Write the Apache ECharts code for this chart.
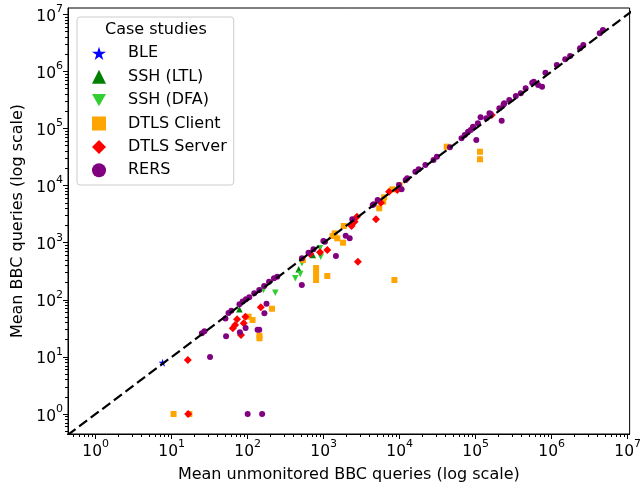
<!DOCTYPE html>
<html>
<head>
<meta charset="utf-8">
<script src="https://cdn.jsdelivr.net/npm/echarts@6/dist/echarts.min.js"></script>
<style>
  html, body { margin: 0; padding: 0; background: #fff; }
  #chart { width: 644px; height: 489px; }
</style>
</head>
<body>
<div id="chart"></div>
<script>
// Mean BBC queries with vs. without monitoring, per case study: [unmonitored, monitored]
const bleData = [[7.6, 7.9]];

const sshLtlData = [[78, 68], [469, 342], [720, 609]];

const sshDfaData = [[161, 149], [231, 133], [424, 238], [492, 283], [518, 436], [914, 569], [895, 798]];

const dtlsClientData = [
  [10.6, 1], [17.1, 1], [103, 50.6], [116, 44.3], [143, 21.2], [143, 23.5], [209, 69.8],
  [533, 498], [795, 360], [795, 283], [795, 222], [1117, 261], [8530, 222],
  [1800, 1000], [1510, 1190], [1310, 1310], [1400, 1460], [1840, 1960],
  [5390, 4000], [6070, 5230], [6250, 6240], [8040, 8610], [10000, 10250],
  [41600, 48000], [114000, 39200], [114000, 28900]
];

const dtlsServerData = [
  [16.5, 1], [16.3, 8.8], [72.6, 45.6], [68.4, 36.2], [63.8, 31.7], [93.4, 50.6], [88.7, 38.7],
  [81.8, 24.2], [149, 73.9], [664, 634], [895, 679], [1117, 745], [2820, 465],
  [2330, 1960], [2550, 2330], [2740, 2850], [4880, 2570], [5660, 5010], [7260, 7820],
  [9300, 8400], [163000, 172000]
];

const rersData = [
  [100, 1], [155, 1], [32, 10], [25, 26], [27, 28], [52, 23], [51, 47], [79, 27], [94, 32],
  [135, 30], [56, 59], [61, 64], [78, 84], [86, 93], [95, 102], [105, 111], [122, 130],
  [142, 149], [165, 175], [191, 207], [222, 238], [245, 254], [166, 58], [177, 85], [142, 30],
  [516, 182], [518, 533], [632, 668], [734, 766], [991, 1070], [1040, 1040], [1450, 585],
  [1950, 1320], [2200, 1200], [2380, 2570], [4420, 4570], [4550, 4700], [5130, 5600],
  [10600, 8610], [12000, 12500], [9790, 10250], [12600, 13400], [16100, 17500],
  [17800, 19300], [21800, 22900], [27900, 28100], [30900, 32100], [45900, 46900],
  [65200, 67300], [71900, 76900], [79500, 87900], [86100, 94200], [92300, 107600],
  [107000, 123000], [116000, 157000], [102000, 63000], [138000, 151000], [152000, 185000],
  [157000, 179000], [205000, 226000], [220000, 137000], [233000, 263000], [238000, 276000],
  [277000, 316000], [338000, 371000], [393000, 413000], [455000, 506000], [555000, 634000],
  [583000, 661000], [664000, 578000], [748000, 540000], [828000, 949000],
  [1170000, 1290000], [1510000, 1630000], [1750000, 1860000], [2360000, 2540000],
  [2610000, 2900000], [4290000, 4650000], [4730000, 5310000]
];

// Reference line y = x
const diagonal = [[0.3, 0.3], [1.2e7, 1.2e7]];

// Axis ticks (powers of ten) and axis extents
const majorTicks = [1, 10, 100, 1e3, 1e4, 1e5, 1e6, 1e7];
const minorMantissas = [2, 3, 4, 5, 6, 7, 8, 9];
const minorTicks = [];
[0.1, 1, 10, 100, 1e3, 1e4, 1e5, 1e6].forEach(function (d) {
  minorMantissas.forEach(function (m) { minorTicks.push(m * d); });
});
const xExtent = [0.4325, 1.062e7];
const yExtent = [0.4467, 1.288e7];

const FONT = 'DejaVu Sans';
const starPath = 'path://M50,0L61.23,34.55L97.55,34.55L68.17,55.9L79.39,90.45L50,69.1L20.61,90.45L31.83,55.9L2.45,34.55L38.77,34.55Z';
const downTriPath = 'path://M0,0L100,0L50,86.6Z';

function powLabel(v) {
  const e = Math.round(Math.log10(v));
  return '{b|10}{s|' + e + '}';
}
const labelRich = {
  b: { fontSize: 15.5, fontFamily: FONT, color: '#000', lineHeight: 21, verticalAlign: 'bottom' },
  s: { fontSize: 11, fontFamily: FONT, color: '#000', verticalAlign: 'top', lineHeight: 11 }
};

function majorAxis(extent, name, nameGap, isX) {
  return {
    type: 'log', logBase: 10, min: extent[0], max: extent[1],
    position: isX ? 'bottom' : 'left',
    name: name, nameLocation: 'middle', nameGap: nameGap,
    nameTextStyle: { fontFamily: FONT, fontSize: 16, color: '#000' },
    axisLine: { show: true, lineStyle: { color: '#000', width: 1 } },
    axisTick: { show: true, customValues: majorTicks, length: 5, lineStyle: { color: '#000', width: 1 } },
    axisLabel: { show: true, customValues: majorTicks, formatter: powLabel, rich: labelRich, margin: 5 },
    splitLine: { show: false },
    minorTick: { show: false },
    z: 5
  };
}
function minorAxis(extent, isX) {
  return {
    type: 'log', logBase: 10, min: extent[0], max: extent[1],
    position: isX ? 'bottom' : 'left',
    axisLine: { show: false },
    axisTick: { show: true, customValues: minorTicks, length: 3, lineStyle: { color: '#000', width: 1 } },
    axisLabel: { show: false },
    splitLine: { show: false },
    minorTick: { show: false }
  };
}

function scatter(name, data, symbol, size, color, z) {
  return {
    name: name, type: 'scatter', data: data,
    xAxisIndex: 0, yAxisIndex: 0,
    symbol: symbol, symbolSize: size,
    itemStyle: { color: color, opacity: 1 },
    emphasis: { disabled: true },
    z: z
  };
}

const chart = echarts.init(document.getElementById('chart'), null, { renderer: 'canvas' });
chart.setOption({
  animation: false,
  backgroundColor: '#fff',
  grid: { left: 68, right: 7, top: 8, bottom: 55, show: true, borderColor: '#000', borderWidth: 1, backgroundColor: 'transparent' },
  xAxis: [majorAxis(xExtent, 'Mean unmonitored BBC queries (log scale)', 33, true), minorAxis(xExtent, true)],
  yAxis: [majorAxis(yExtent, 'Mean BBC queries (log scale)', 41, false), minorAxis(yExtent, false)],
  legend: {
    orient: 'vertical', left: 77, top: 17,
    padding: [28.3, 7, 6.7, 15],
    itemWidth: 14, itemHeight: 14, itemGap: 7.4,
    backgroundColor: 'rgba(255,255,255,0.8)', borderColor: '#cccccc', borderWidth: 1, borderRadius: 3,
    textStyle: { fontFamily: FONT, fontSize: 16, color: '#000', padding: [0, 0, 0, 17], lineHeight: 16 },
    selectedMode: false,
    data: [
      { name: 'BLE', icon: starPath },
      { name: 'SSH (LTL)', icon: 'triangle' },
      { name: 'SSH (DFA)', icon: downTriPath },
      { name: 'DTLS Client', icon: 'rect' },
      { name: 'DTLS Server', icon: 'diamond' },
      { name: 'RERS', icon: 'circle' }
    ]
  },
  graphic: [{
    type: 'text', left: 105, top: 22, z: 100,
    style: { text: 'Case studies', fontFamily: FONT, fontSize: 16, fill: '#000' }
  }],
  series: [
    scatter('BLE', bleData, starPath, 8, '#0000ff', 2),
    scatter('SSH (LTL)', sshLtlData, 'triangle', 6.5, '#008000', 2),
    scatter('SSH (DFA)', sshDfaData, downTriPath, 6.5, '#32cd32', 2),
    scatter('DTLS Client', dtlsClientData, 'rect', 6, '#ffa500', 2),
    scatter('DTLS Server', dtlsServerData, 'diamond', 8, '#ff0000', 2),
    scatter('RERS', rersData, 'circle', 6, '#800080', 2),
    {
      name: 'y = x', type: 'line', data: diagonal, xAxisIndex: 0, yAxisIndex: 0,
      symbol: 'none', clip: true, silent: true, z: 3,
      lineStyle: { color: '#000', width: 2.2, type: [10, 4.5] }
    }
  ]
});
</script>
</body>
</html>
